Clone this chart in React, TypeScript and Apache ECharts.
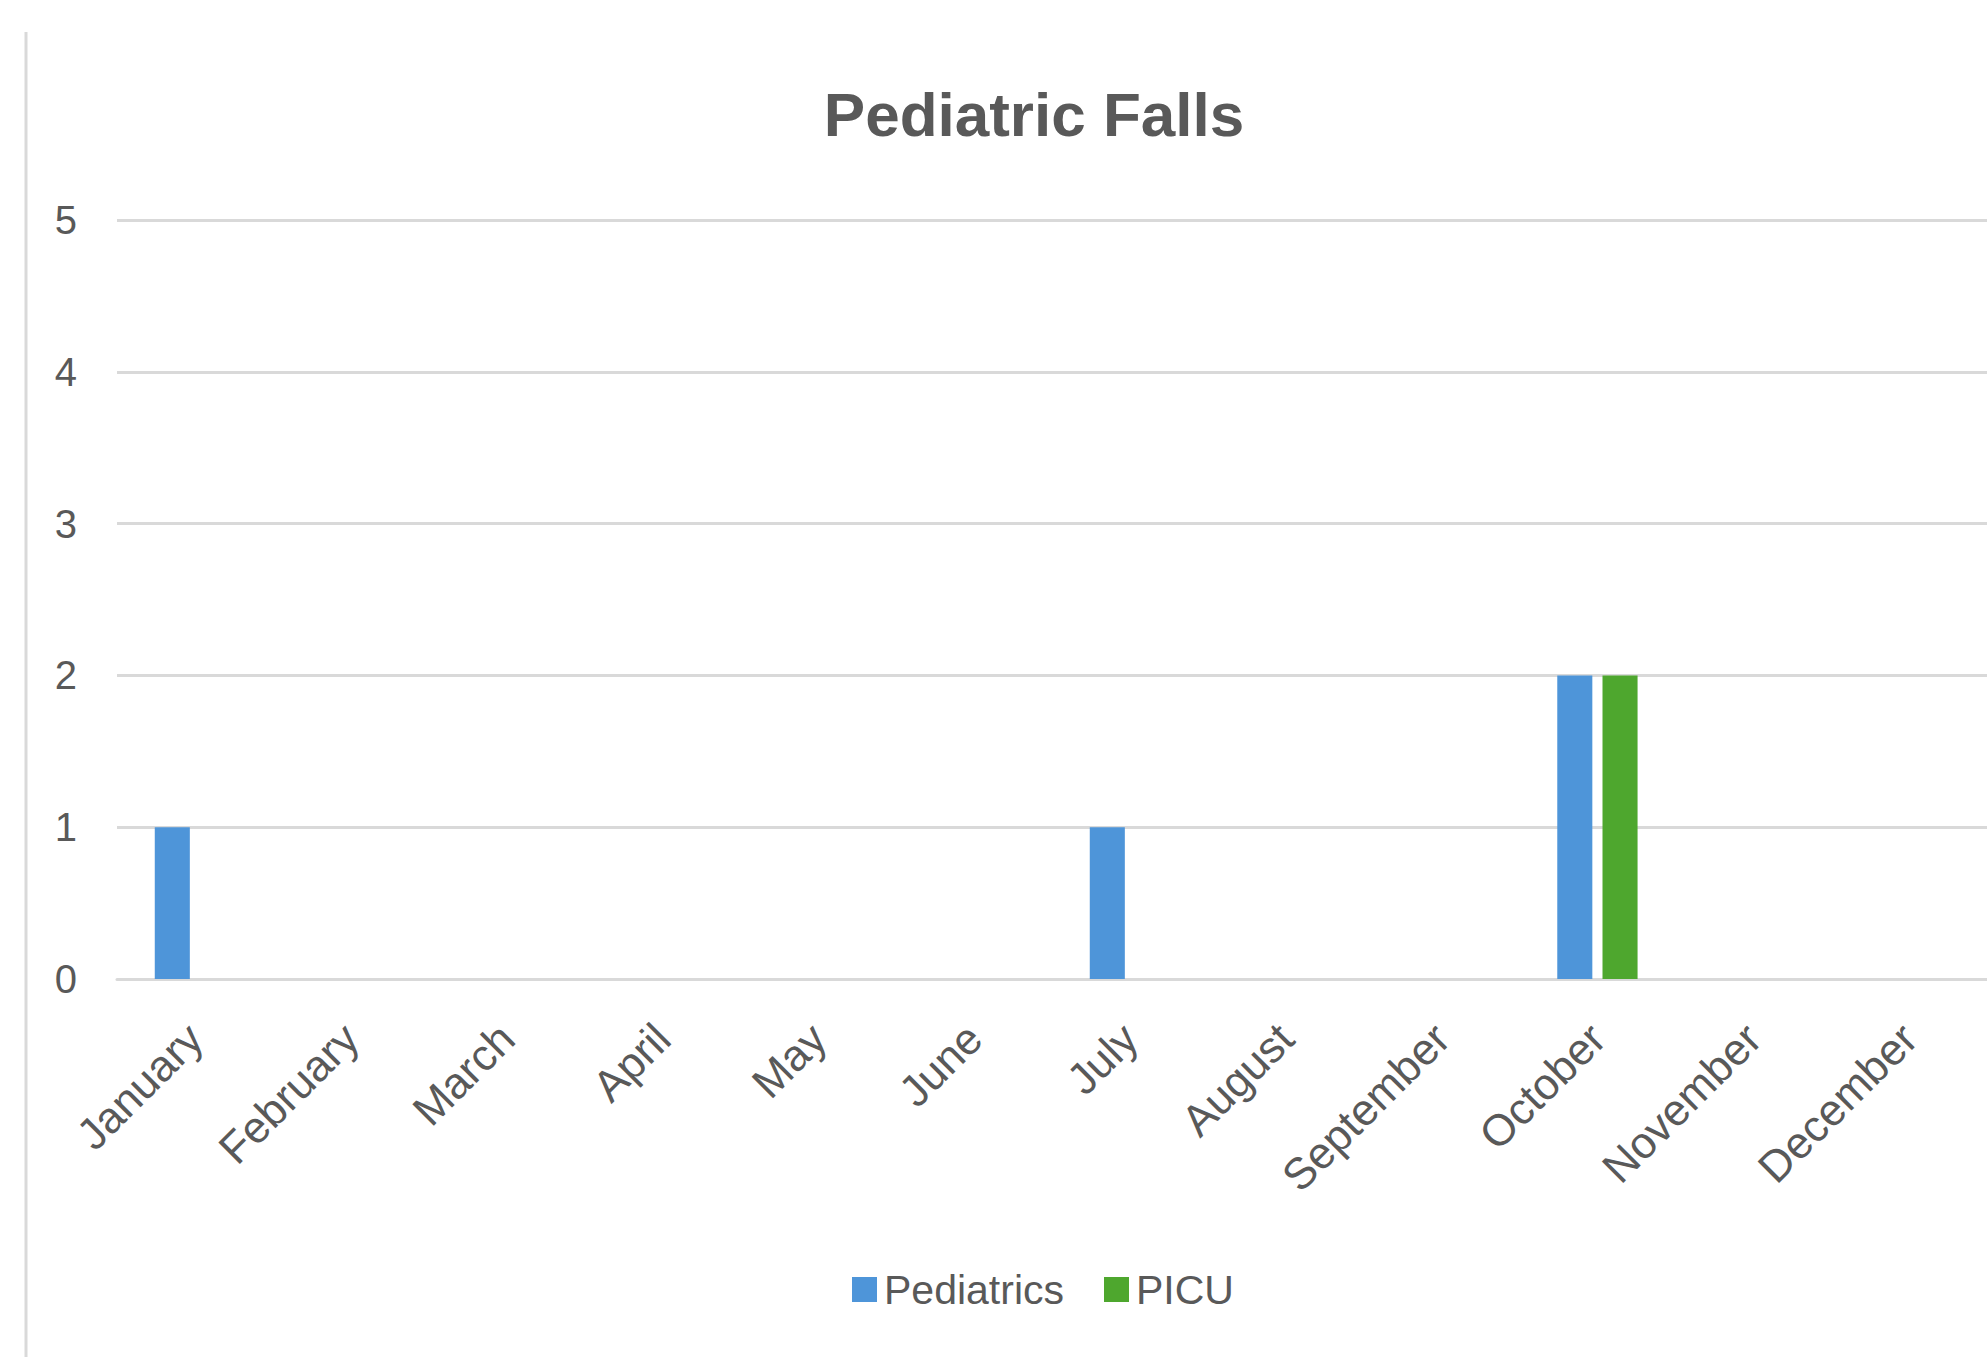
import React, { useEffect, useRef } from "react";
import * as echarts from "echarts";

const months = [
  "January", "February", "March", "April", "May", "June",
  "July", "August", "September", "October", "November", "December",
];
const pediatrics = [1, 0, 0, 0, 0, 0, 1, 0, 0, 2, 0, 0];
const picu = [0, 0, 0, 0, 0, 0, 0, 0, 0, 2, 0, 0];
const seriesNames = ["Pediatrics", "PICU"];
const seriesColors = ["#4E95D9", "#4EA72E"];
const titleText = "Pediatric Falls";

const FONT = "'Liberation Sans', Arial, sans-serif";
const TEXT = "#595959";
const GRID = "#d9d9d9";

export default function App() {
  const ref = useRef<HTMLDivElement>(null);
  useEffect(() => {
    document.body.style.margin = "0";
    if (!ref.current) return;
    const chart = echarts.init(ref.current, undefined, { renderer: "svg" });
    chart.setOption({
      animation: false,
      backgroundColor: "#ffffff",
      title: {
        text: titleText,
        left: 1029,
        textAlign: "center",
        top: 78,
        textStyle: { fontFamily: FONT, fontSize: 62, fontWeight: "bold", color: TEXT },
      },
      legend: {
        data: seriesNames,
        left: 847,
        top: 1264,
        icon: "rect",
        itemWidth: 25,
        itemHeight: 25,
        itemGap: 40,
        textStyle: { fontFamily: FONT, fontSize: 41, color: TEXT, padding: [0, 0, 0, 2] },
      },
      grid: { left: 117, right: 0, top: 220, bottom: 378, containLabel: false },
      xAxis: {
        type: "category",
        data: months,
        axisLine: { show: true, lineStyle: { color: GRID, width: 3 } },
        axisTick: { show: false },
        axisLabel: {
          rotate: 45,
          interval: 0,
          margin: 52,
          fontFamily: FONT,
          fontSize: 44,
          color: TEXT,
        },
      },
      yAxis: {
        type: "value",
        min: 0,
        max: 5,
        interval: 1,
        axisLine: { show: false },
        axisTick: { show: false },
        splitLine: { lineStyle: { color: GRID, width: 3 } },
        axisLabel: {
          margin: 40,
          fontFamily: FONT,
          fontSize: 40,
          color: TEXT,
          padding: [0, 0, 20, 0],
        },
      },
      graphic: [
        {
          type: "line",
          shape: { x1: 26, y1: 32, x2: 26, y2: 1357 },
          style: { stroke: GRID, lineWidth: 3 },
        },
      ],
      series: [
        {
          name: seriesNames[0],
          type: "bar",
          data: pediatrics,
          barWidth: "22.5%",
          barGap: "29%",
          itemStyle: { color: seriesColors[0] },
        },
        {
          name: seriesNames[1],
          type: "bar",
          data: picu,
          barWidth: "22.5%",
          barGap: "29%",
          itemStyle: { color: seriesColors[1] },
        },
      ],
    });
    return () => chart.dispose();
  }, []);
  return <div ref={ref} style={{ width: 1987, height: 1357 }} />;
}
